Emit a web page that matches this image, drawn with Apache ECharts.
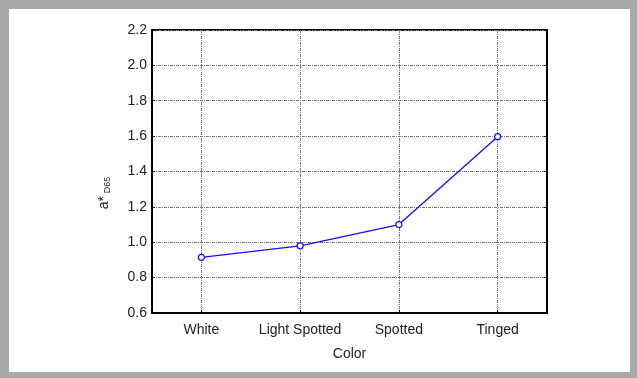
<!DOCTYPE html>
<html><head><meta charset="utf-8">
<script src="https://cdn.jsdelivr.net/npm/echarts@6/dist/echarts.min.js"></script>
<style>html,body{margin:0;padding:0;background:#fff}#c{width:637px;height:378px}</style>
</head><body><div id="c"></div>
<script>
var categories = ['White', 'Light Spotted', 'Spotted', 'Tinged'];
var values = [0.915, 0.98, 1.10, 1.597];
var yMin = 0.6, yMax = 2.2, yStep = 0.2;

var chart = echarts.init(document.getElementById('c'), null, {renderer: 'canvas'});
var font = 'Liberation Sans, Arial, sans-serif';
var gridStyle = {color: '#777', width: 1, type: [3, 1, 1, 1]};
chart.setOption({
  animation: false,
  graphic: [
    {type: 'rect', shape: {x: 0, y: 0, width: 637, height: 378}, style: {fill: '#a9a9ab'}, z: -10},
    {type: 'rect', shape: {x: 9, y: 9, width: 621, height: 363}, style: {fill: '#fff'}, z: -9}
  ],
  grid: {left: 152, top: 30, width: 395, height: 283, show: true, borderColor: '#000', borderWidth: 2, backgroundColor: 'transparent'},
  xAxis: {
    type: 'category', data: categories, boundaryGap: true,
    name: 'Color', nameLocation: 'middle', nameGap: 34,
    nameTextStyle: {fontFamily: font, fontSize: 14, color: '#222'},
    axisLine: {show: true, lineStyle: {color: '#000', width: 2}},
    axisTick: {show: true, inside: true, alignWithLabel: true, interval: 0, length: 3, lineStyle: {color: '#000'}},
    axisLabel: {fontFamily: font, fontSize: 14, color: '#222', margin: 10, interval: 0},
    splitLine: {show: true, alignWithLabel: true, interval: 0, lineStyle: gridStyle}
  },
  yAxis: [{
    type: 'value', min: yMin, max: yMax, interval: yStep,
    name: '{a|a*}{s|D65}', nameLocation: 'middle', nameGap: 40, nameRotate: 90,
    nameTextStyle: {rich: {a: {fontFamily: font, fontSize: 14, color: '#222'}, s: {fontFamily: font, fontSize: 9, color: '#222', padding: [6, 43, 0, 3]}}},
    axisLine: {show: true, lineStyle: {color: '#000', width: 2}},
    axisTick: {show: true, inside: true, length: 3, lineStyle: {color: '#000'}},
    axisLabel: {fontFamily: font, fontSize: 14, color: '#222', margin: 5, formatter: function (v) { return v.toFixed(1); }},
    splitLine: {show: true, lineStyle: gridStyle}
  }, {
    type: 'value', min: yMin, max: yMax, interval: yStep, position: 'right',
    axisLine: {show: true, lineStyle: {color: '#000', width: 2}},
    axisTick: {show: true, inside: true, length: 3, lineStyle: {color: '#000'}},
    axisLabel: {show: false}, splitLine: {show: false}
  }],
  series: [{
    type: 'line', data: values, yAxisIndex: 0,
    symbol: 'circle', symbolSize: 6,
    lineStyle: {color: '#1010ff', width: 1.3},
    itemStyle: {color: '#fff', borderColor: '#1010ff', borderWidth: 1.2}
  }]
});
</script></body></html>
